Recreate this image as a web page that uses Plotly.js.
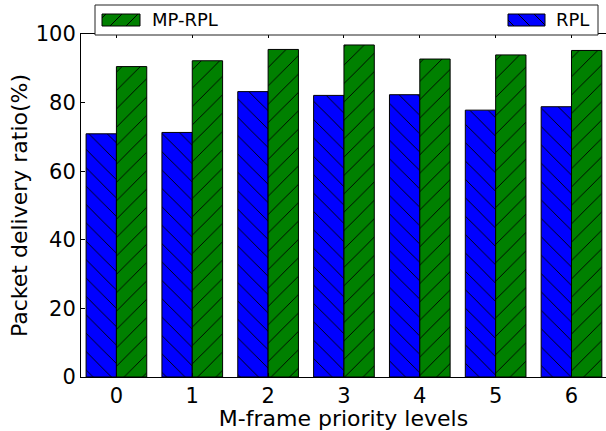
<!DOCTYPE html>
<html>
<head>
<meta charset="utf-8">
<script src="https://cdn.plot.ly/plotly-3.0.1.min.js"></script>
<style>
  html, body { margin: 0; padding: 0; background: #fff; }
  #chart { width: 606px; height: 431px; }
</style>
</head>
<body>
<div id="chart"></div>
<script>
// Packet delivery ratio per M-frame priority level
const categories = [0, 1, 2, 3, 4, 5, 6];
const seriesNames = ['RPL', 'MP-RPL'];
const rplValues = [70.9, 71.3, 83.2, 82.1, 82.3, 77.8, 78.8];
const mpRplValues = [90.5, 92.2, 95.5, 96.8, 92.7, 93.9, 95.2];
const yTickValues = [0, 20, 40, 60, 80, 100];
const xTitle = 'M-frame priority levels';
const yTitle = 'Packet delivery ratio(%)';

const FONT = 'DejaVu Sans, Verdana, sans-serif';
const BLUE = '#0000ff';
const GREEN = '#008000';
const W = 606, H = 431;
const M = { l: 81, r: 0, t: 34, b: 54 };
const plotW = W - M.l - M.r;
const plotH = H - M.t - M.b;

function barTrace(name, values, color, hatch) {
  return {
    type: 'bar',
    name: name,
    x: categories,
    y: values,
    marker: {
      color: color,
      line: { color: '#000', width: 1 },
      pattern: { shape: hatch, fgcolor: '#000', bgcolor: color, size: 13, solidity: 0.07, fillmode: 'replace' }
    },
    hoverinfo: 'x+y'
  };
}

// pixel -> paper helpers for the legend box drawn above the axes
const px = x => (x - M.l) / plotW;
const py = y => (H - M.b - y) / plotH;

// hatch lines clipped to a swatch rectangle (pixel coords, y down)
function hatchPath(x0, y0, x1, y1, dir, step) {
  let d = '';
  for (let c = -200; c < 1400; c += step) {
    let ya, yb, xa, xb;
    if (dir === '/') { // x + y = c
      ya = Math.max(y0, c - x1); yb = Math.min(y1, c - x0);
      if (ya >= yb) continue;
      xa = c - ya; xb = c - yb;
    } else {           // x - y = c
      ya = Math.max(y0, x0 - c); yb = Math.min(y1, x1 - c);
      if (ya >= yb) continue;
      xa = c + ya; xb = c + yb;
    }
    d += `M${px(xa)},${py(ya)}L${px(xb)},${py(yb)}`;
  }
  return d;
}

function swatch(x0, y0, x1, y1, color, dir) {
  return [
    { type: 'rect', xref: 'paper', yref: 'paper', x0: px(x0), x1: px(x1), y0: py(y1), y1: py(y0),
      fillcolor: color, line: { width: 0 } },
    { type: 'path', xref: 'paper', yref: 'paper', path: hatchPath(x0, y0, x1, y1, dir, 16),
      line: { color: '#000', width: 1 } },
    { type: 'rect', xref: 'paper', yref: 'paper', x0: px(x0), x1: px(x1), y0: py(y1), y1: py(y0),
      line: { color: '#000', width: 1 } }
  ];
}

const shapes = [
  { type: 'rect', xref: 'paper', yref: 'paper', x0: px(95), x1: px(598), y0: py(35), y1: py(5),
    fillcolor: '#fff', line: { color: '#222', width: 1 } },
  ...swatch(102, 14, 140, 26, GREEN, '/'),
  ...swatch(508, 14, 545, 26, BLUE, '\\')
];

const annotations = [
  { xref: 'paper', yref: 'paper', x: px(150), y: py(20), xanchor: 'left', yanchor: 'middle',
    text: seriesNames[1], showarrow: false, font: { family: FONT, size: 18, color: '#000' } },
  { xref: 'paper', yref: 'paper', x: px(591), y: py(20), xanchor: 'right', yanchor: 'middle',
    text: seriesNames[0], showarrow: false, font: { family: FONT, size: 18, color: '#000' } }
];

const layout = {
  width: W, height: H,
  margin: M,
  paper_bgcolor: '#fff', plot_bgcolor: '#fff',
  font: { family: FONT, size: 21, color: '#000' },
  showlegend: false,
  barmode: 'group',
  bargap: 0.2,
  bargroupgap: 0,
  xaxis: {
    range: [-0.467, 6.455],
    tickvals: categories,
    ticktext: categories.map(String),
    ticks: 'inside', ticklen: 4, tickcolor: '#000',
    showline: true, linecolor: '#000', linewidth: 1, mirror: 'ticks',
    showgrid: false, zeroline: false,
    tickfont: { family: FONT, size: 21 },
    title: { text: xTitle, font: { family: FONT, size: 22 }, standoff: 6 }
  },
  yaxis: {
    range: [0, 100],
    tickvals: yTickValues,
    ticks: 'inside', ticklen: 4, tickcolor: '#000',
    showline: true, linecolor: '#000', linewidth: 1, mirror: false,
    showgrid: false, zeroline: false,
    tickfont: { family: FONT, size: 21 },
    title: { text: yTitle, font: { family: FONT, size: 22 }, standoff: 2 }
  },
  shapes: shapes,
  annotations: annotations
};

Plotly.newPlot('chart', [
  barTrace(seriesNames[0], rplValues, BLUE, '\\'),
  barTrace(seriesNames[1], mpRplValues, GREEN, '/')
], layout, { displayModeBar: false, staticPlot: true });
</script>
</body>
</html>
